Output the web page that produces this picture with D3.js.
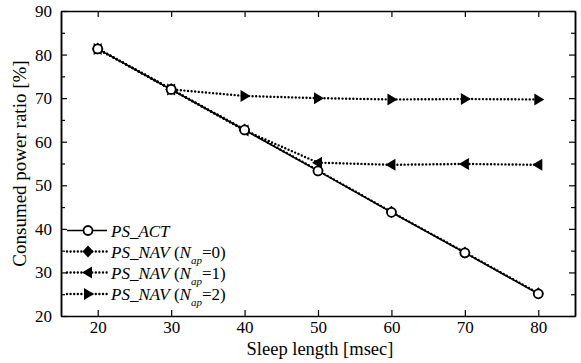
<!DOCTYPE html>
<html><head><meta charset="utf-8">
<script src="https://cdn.jsdelivr.net/npm/d3@7"></script>
<style>body{margin:0;background:#fff}svg{display:block}</style>
</head><body>
<script>
const sleepLength = [20, 30, 40, 50, 60, 70, 80];
const psAct  = [81.3, 72.0, 62.7, 53.3, 43.8, 34.5, 25.1];
const psNav0 = [81.4, 72.1, 62.8, 53.4, 43.9, 34.6, 25.2];
const psNav1 = [81.3, 72.0, 62.6, 55.2, 54.7, 54.9, 54.7];
const psNav2 = [81.3, 72.0, 70.5, 70.0, 69.7, 69.8, 69.7];
const xTicks = [20, 30, 40, 50, 60, 70, 80];
const yTicks = [20, 30, 40, 50, 60, 70, 80, 90];

const FONT = '"Liberation Serif"';
const W = 581, H = 363;
const L = 61, R = 575, T = 11, B = 316;
const svg = d3.select("body").append("svg").attr("width", W).attr("height", H);
const x = d3.scaleLinear().domain([15, 85]).range([L, R]);
const y = d3.scaleLinear().domain([20, 90]).range([B, T]);

const minorY = d3.range(25, 90, 10);
function styleAxis(g){
  g.attr("font-family", null).attr("font-size", null);
  g.select(".domain").attr("stroke","#000").attr("stroke-width",1.5);
  g.selectAll(".tick line").attr("stroke","#000").attr("stroke-width",1.2);
  g.selectAll("text").style("font-family", FONT).style("font-size","17px").attr("fill","#000");
}
svg.append("g").attr("transform",`translate(0,${B})`).call(d3.axisBottom(x).tickValues(xTicks).tickSizeInner(-6).tickSizeOuter(0).tickPadding(5)).call(styleAxis);
svg.append("g").attr("transform",`translate(0,${T})`).call(d3.axisTop(x).tickValues(xTicks).tickSizeInner(-6).tickSizeOuter(0).tickFormat("")).call(styleAxis);
svg.append("g").attr("transform",`translate(${L},0)`).call(d3.axisLeft(y).tickValues(yTicks).tickSizeInner(-6).tickSizeOuter(0).tickPadding(9)).call(styleAxis);
svg.append("g").attr("transform",`translate(${R},0)`).call(d3.axisRight(y).tickValues(yTicks).tickSizeInner(-6).tickSizeOuter(0).tickFormat("")).call(styleAxis);
svg.append("g").attr("transform",`translate(${L},0)`).call(d3.axisLeft(y).tickValues(minorY).tickSizeInner(-4).tickSizeOuter(0).tickFormat("")).call(styleAxis);
svg.append("g").attr("transform",`translate(${R},0)`).call(d3.axisRight(y).tickValues(minorY).tickSizeInner(-4).tickSizeOuter(0).tickFormat("")).call(styleAxis);

svg.append("text").attr("x",(L+R)/2+2).attr("y",355).attr("text-anchor","middle").style("font-family",FONT).style("font-size","18.5px").text("Sleep length [msec]");
svg.append("text").attr("transform",`translate(26,${(T+B)/2}) rotate(-90)`).attr("text-anchor","middle").style("font-family",FONT).style("font-size","19px").text("Consumed power ratio [%]");

const series = [
  {name:"PS_ACT", vals:psAct, dash:null, marker:"circle"},
  {name:"PS_NAV", sub:"0", vals:psNav0, dash:true, marker:"diamond"},
  {name:"PS_NAV", sub:"1", vals:psNav1, dash:true, marker:"left"},
  {name:"PS_NAV", sub:"2", vals:psNav2, dash:true, marker:"right"}
];
function drawMarker(g, type, cx, cy){
  if(type==="circle") g.append("circle").attr("cx",cx).attr("cy",cy).attr("r",4.5).attr("fill","#fff").attr("stroke","#000").attr("stroke-width",1.8);
  else if(type==="diamond") g.append("path").attr("d",`M${cx},${cy-6}L${cx+5.5},${cy}L${cx},${cy+6}L${cx-5.5},${cy}Z`).attr("fill","#000");
  else if(type==="left") g.append("path").attr("d",`M${cx-6},${cy}L${cx+4},${cy-6}L${cx+4},${cy+6}Z`).attr("fill","#000");
  else if(type==="right") g.append("path").attr("d",`M${cx+6},${cy}L${cx-4},${cy-6}L${cx-4},${cy+6}Z`).attr("fill","#000");
}
const line = d3.line().x((d,i)=>x(sleepLength[i])).y(d=>y(d));
[3,2,1,0].forEach(si=>{
  const s = series[si];
  const p = svg.append("path").attr("d",line(s.vals)).attr("fill","none").attr("stroke","#000");
  if(s.dash) p.attr("stroke-width",2.4).attr("stroke-dasharray","0,3.6").attr("stroke-linecap","round");
  else p.attr("stroke-width",1.6);
});
[3,2,1,0].forEach(si=>{
  const s = series[si];
  const g = svg.append("g");
  s.vals.forEach((v,i)=>drawMarker(g, s.marker, x(sleepLength[i]), y(v)));
});

const legY = [230.5, 251.5, 272.5, 294];
series.forEach((s,i)=>{
  const ly = legY[i];
  const p = svg.append("path").attr("d",`M67,${ly}L107,${ly}`).attr("stroke","#000").attr("fill","none");
  if(s.dash) p.attr("stroke-width",2.4).attr("stroke-dasharray","0,3.6").attr("stroke-linecap","round");
  else p.attr("stroke-width",1.6);
  drawMarker(svg.append("g"), s.marker, 88, ly);
  const t = svg.append("text").attr("x",111).attr("y",ly+6).style("font-family",FONT).style("font-size","17px");
  t.append("tspan").style("font-style","italic").text(s.name);
  if(s.sub!==undefined){
    t.append("tspan").text(" (");
    t.append("tspan").style("font-style","italic").text("N");
    t.append("tspan").style("font-style","italic").style("font-size","11px").attr("dy",6).text("ap");
    t.append("tspan").attr("dy",-6).text("="+s.sub+")");
  }
});
</script>
</body></html>
